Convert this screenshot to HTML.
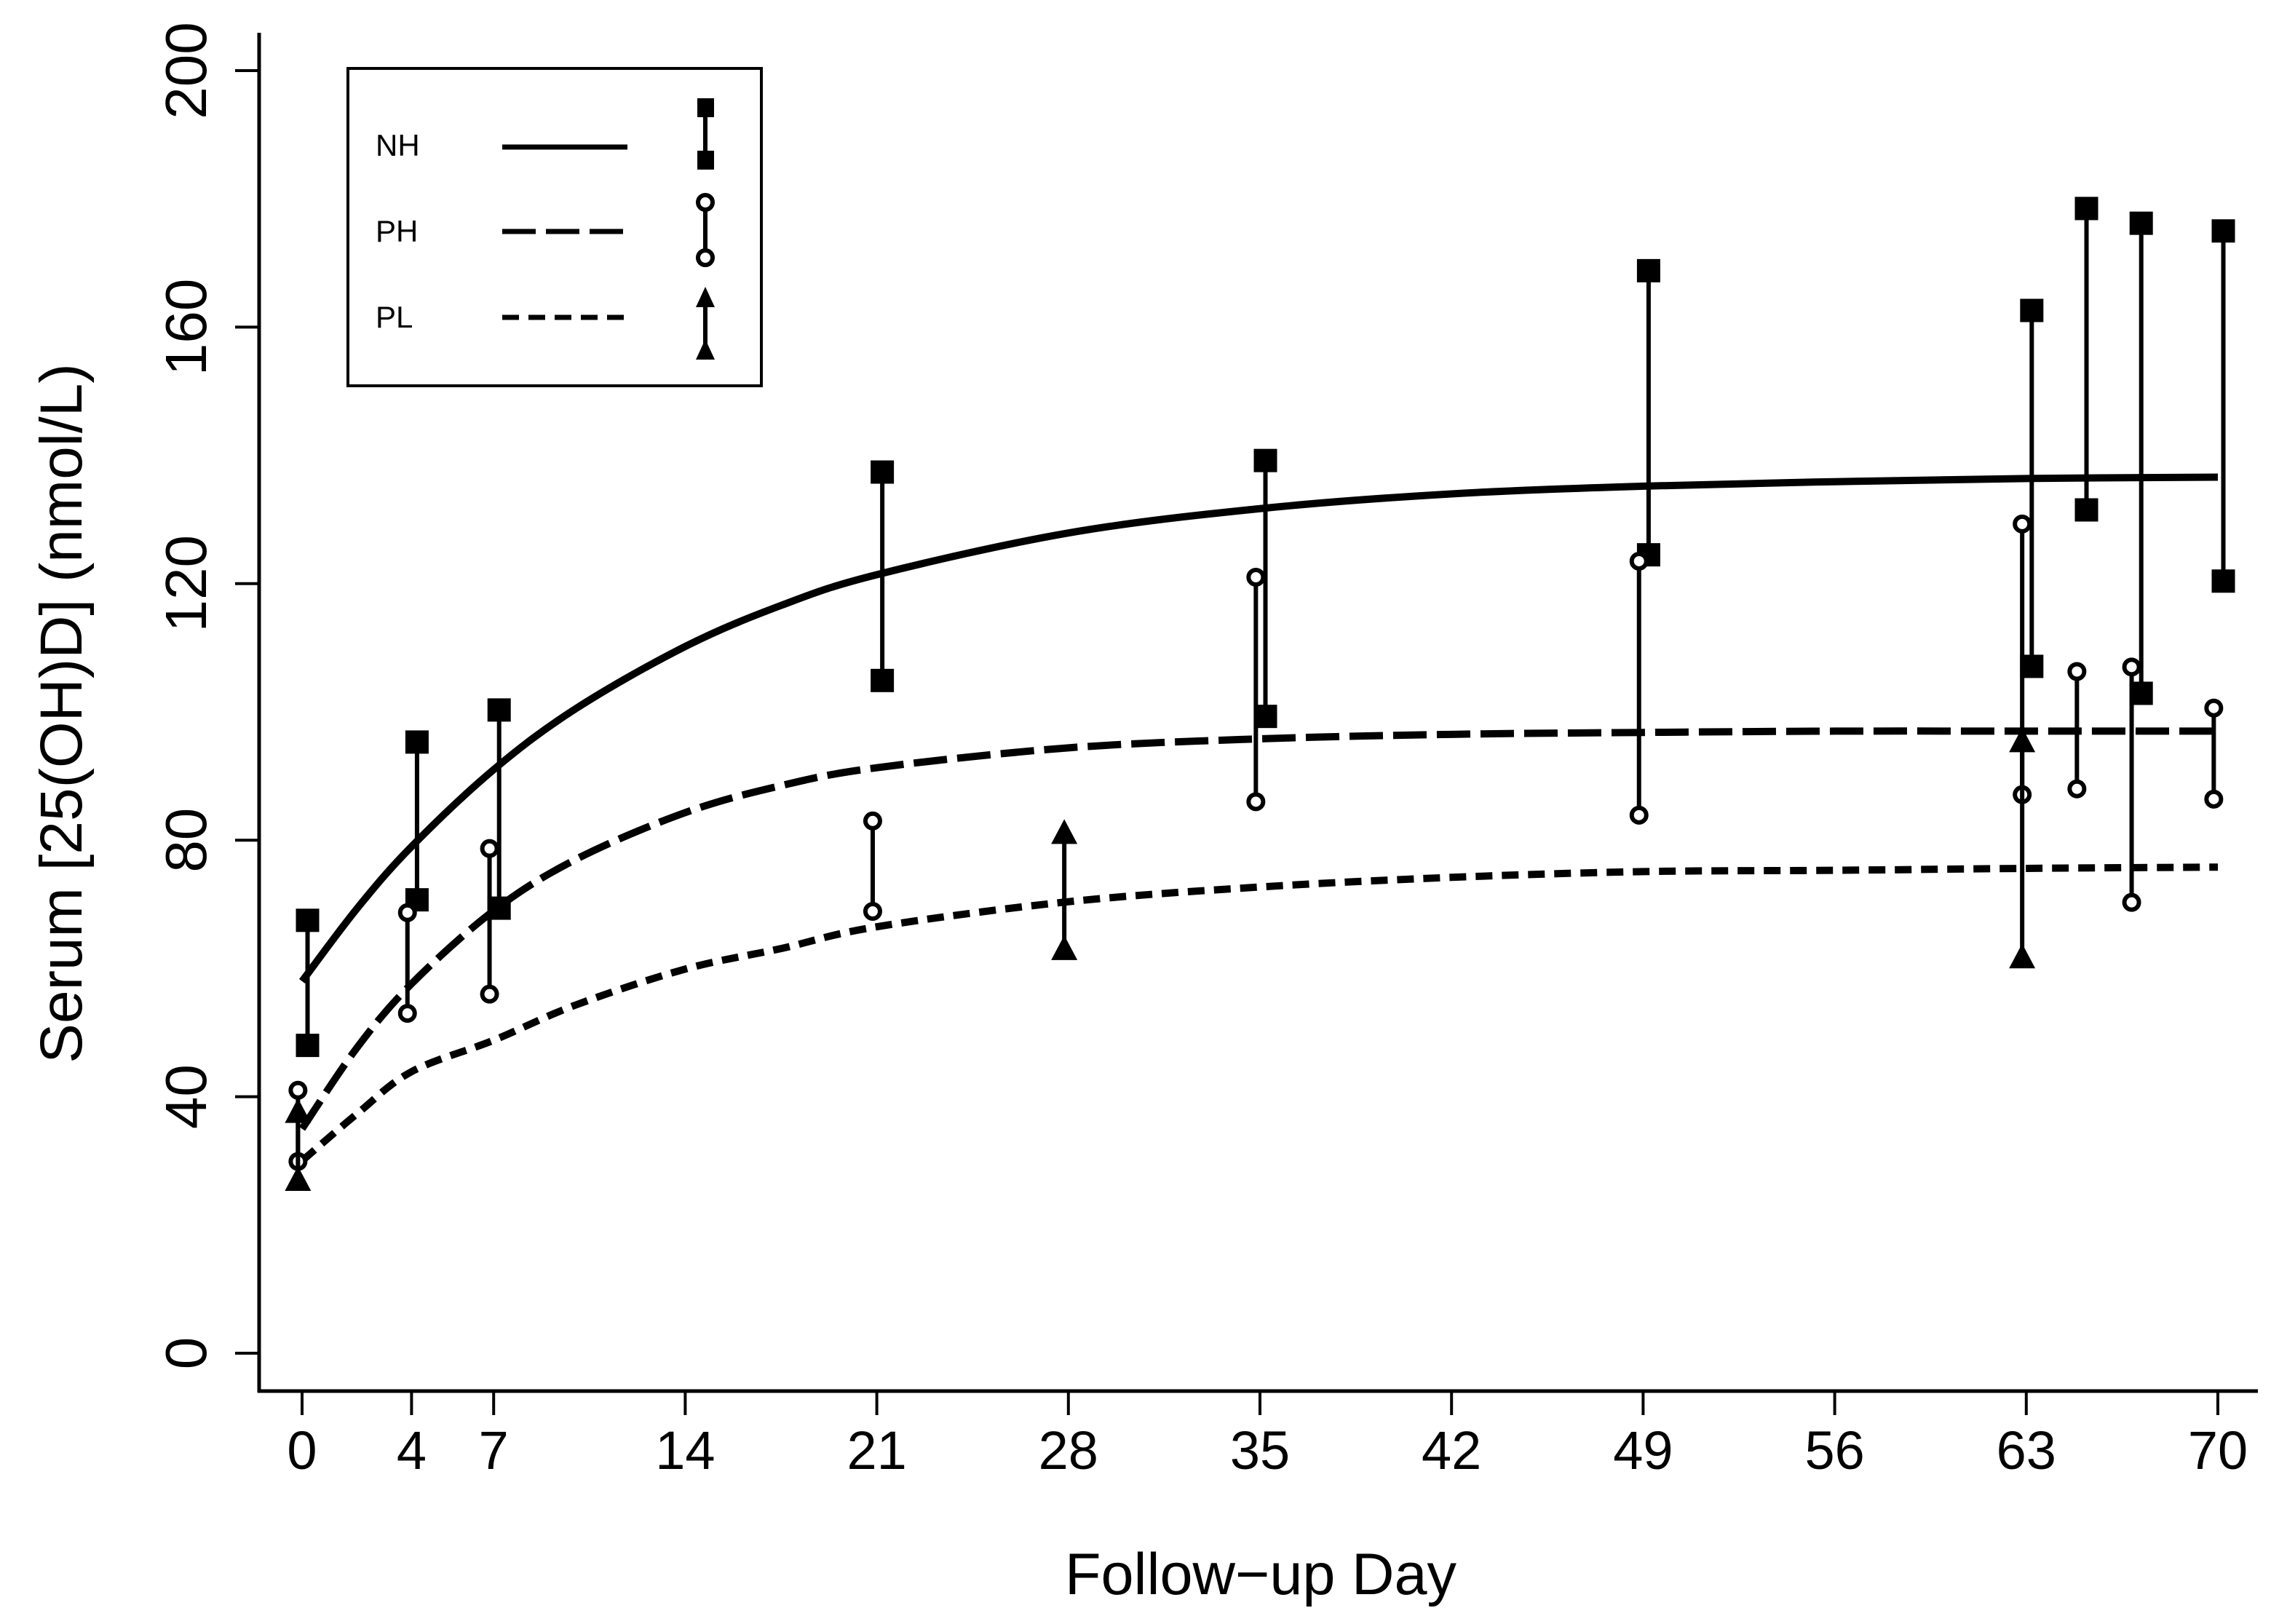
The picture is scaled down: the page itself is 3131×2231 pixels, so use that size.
<!DOCTYPE html>
<html><head><meta charset="utf-8"><style>
html,body{margin:0;padding:0;background:#fff;}
svg{display:block;font-family:"Liberation Sans",sans-serif;}
</style></head><body>
<svg id="chart" width="3131" height="2231" viewBox="0 0 3131 2231">
<g id="axes"></g>
<g id="curves"></g>
<g id="points"></g>
<g id="legend">
  <rect x="478" y="94" width="568" height="436" fill="#fff" stroke="#000" stroke-width="4"/>
  <text x="516" y="214" font-size="42">NH</text>
  <text x="516" y="332" font-size="42">PH</text>
  <text x="516" y="450" font-size="42">PL</text>
  <line x1="690" y1="202" x2="862" y2="202" stroke="#000" stroke-width="7"/>
  <line x1="690" y1="318" x2="862" y2="318" stroke="#000" stroke-width="7" stroke-dasharray="46,14"/>
  <line x1="690" y1="436" x2="862" y2="436" stroke="#000" stroke-width="7" stroke-dasharray="23,13"/>
  <g>
    <line x1="969" y1="148" x2="969" y2="220" stroke="#000" stroke-width="6"/>
    <rect x="958" y="135" width="23" height="26" fill="#000"/><rect x="958" y="207" width="23" height="26" fill="#000"/>
  </g>
  <g>
    <line x1="969" y1="280" x2="969" y2="352" stroke="#000" stroke-width="6"/>
    <circle cx="969" cy="278" r="10" fill="#fff" stroke="#000" stroke-width="6"/><circle cx="969" cy="354" r="10" fill="#fff" stroke="#000" stroke-width="6"/>
  </g>
  <g>
    <line x1="969" y1="410" x2="969" y2="480" stroke="#000" stroke-width="6"/>
    <polygon points="969,394 956,422 982,422" fill="#000"/><polygon points="969,466 956,494 982,494" fill="#000"/>
  </g>
</g>
<text x="1732" y="2190" font-size="81" text-anchor="middle">Follow−up Day</text>
<text transform="translate(112,980) rotate(-90)" font-size="82" text-anchor="middle">Serum [25(OH)D] (nmol/L)</text>
</svg>
<script>
const xTicks = [0,4,7,14,21,28,35,42,49,56,63,70];
const yTicks = [0,40,80,120,160,200];
const curveDays = [0,2,4,7,10,14,17.5,21,28,35,42,49,56,63,70];
const nhCurve = [58,69.3,79,91,100.5,110.2,116.6,121.4,127.9,131.7,134,135.2,135.9,136.4,136.6];
const phCurve = [35,47.6,57.6,69,77,84.3,88.5,91.3,94.4,95.8,96.5,96.8,97,97,97];
const plCurve = [30,37.3,43.9,48.8,54.3,59.9,63.1,66.5,70.4,72.7,74.2,75.1,75.3,75.6,75.8];
const nhDays = [0,4,7,21,35,49,63,65,67,70];
const nhHigh = [67.5,95.3,100.3,137.4,139.2,168.8,162.6,178.5,176.2,175];
const nhLow = [48,70.7,69.4,104.9,99.3,124.5,107.1,131.5,102.9,120.4];
const phDays = [0,4,7,21,35,49,63,65,67,70];
const phHigh = [41,68.7,78.7,83,121,123.5,129.3,106.3,107,100.6];
const phLow = [29.9,53,56,68.9,86,83.9,87.1,88,70.3,86.4];
const plDays = [0,28,63];
const plHigh = [37.5,81,95.3];
const plLow = [26.9,62.9,61.6];

const NS="http://www.w3.org/2000/svg";
const X = d => 415 + d*37.6;
const Y = v => 1859 - v*8.81;
function mk(tag, attrs, parent){const e=document.createElementNS(NS,tag);for(const k in attrs)e.setAttribute(k,attrs[k]);parent.appendChild(e);return e;}

const axes=document.getElementById('axes');
let el=mk('line',{x1:356,y1:45,x2:356,y2:1913,stroke:'#000','stroke-width':5},axes);


el=mk('line',{x1:354,y1:1911,x2:3102,y2:1911,stroke:'#000','stroke-width':5},axes);


xTicks.forEach(t=>{
  let l=mk('line',{x1:X(t),y1:1911,x2:X(t),y2:1944,stroke:'#000','stroke-width':4},axes);
  
  
  let tx=mk('text',{x:X(t),y:2018,'font-size':74,'text-anchor':'middle'},axes);
  tx.textContent=t;
  
  
});
yTicks.forEach(t=>{
  let l=mk('line',{x1:323,y1:Y(t),x2:356,y2:Y(t),stroke:'#000','stroke-width':4},axes);
  
  
  let tx=mk('text',{transform:`translate(283,${Y(t)}) rotate(-90)`,'font-size':80,'text-anchor':'middle'},axes);
  tx.textContent=t;
  
  
});

function smoothPath(xs, ys){
  const p=xs.map((d,i)=>[X(d),Y(ys[i])]);
  let s=`M${p[0][0]},${p[0][1]}`;
  for(let i=0;i<p.length-1;i++){
    const p0=p[i-1]||p[i],p1=p[i],p2=p[i+1],p3=p[i+2]||p[i+1];
    const c1=[p1[0]+(p2[0]-p0[0])/6,p1[1]+(p2[1]-p0[1])/6];
    const c2=[p2[0]-(p3[0]-p1[0])/6,p2[1]-(p3[1]-p1[1])/6];
    s+=` C${c1[0]},${c1[1]} ${c2[0]},${c2[1]} ${p2[0]},${p2[1]}`;
  }
  return s;
}
const curves=document.getElementById('curves');
[[nhCurve,'','curve-nh'],[phCurve,'46,14','curve-ph'],[plCurve,'23,13','curve-pl']].forEach(([vals,dash,name])=>{
  const p=mk('path',{d:smoothPath(curveDays,vals),fill:'none',stroke:'#000','stroke-width':10},curves);
  if(dash)p.setAttribute('stroke-dasharray',dash);
  
  
});

const pts=document.getElementById('points');
function errbar(x,hi,lo,kind,name){
  const g=mk('g',{},pts);
  
  
  mk('line',{x1:x,y1:Y(hi),x2:x,y2:Y(lo),stroke:'#000','stroke-width':6},g);
  [hi,lo].forEach(v=>{
    const y=Y(v);
    if(kind==='sq') mk('rect',{x:x-16,y:y-16,width:32,height:32,fill:'#000'},g);
    else if(kind==='ci') mk('circle',{cx:x,cy:y,r:10,fill:'#fff',stroke:'#000','stroke-width':6},g);
    else mk('polygon',{points:`${x},${y-20} ${x-18},${y+14} ${x+18},${y+14}`,fill:'#000'},g);
  });
}
nhDays.forEach((d,i)=>errbar(X(d+0.2),nhHigh[i],nhLow[i],'sq','errbar-nh-day'+d));
phDays.forEach((d,i)=>errbar(X(d-0.15),phHigh[i],phLow[i],'ci','errbar-ph-day'+d));
plDays.forEach((d,i)=>errbar(X(d-0.15),plHigh[i],plLow[i],'tr','errbar-pl-day'+d));
</script>
</body></html>
